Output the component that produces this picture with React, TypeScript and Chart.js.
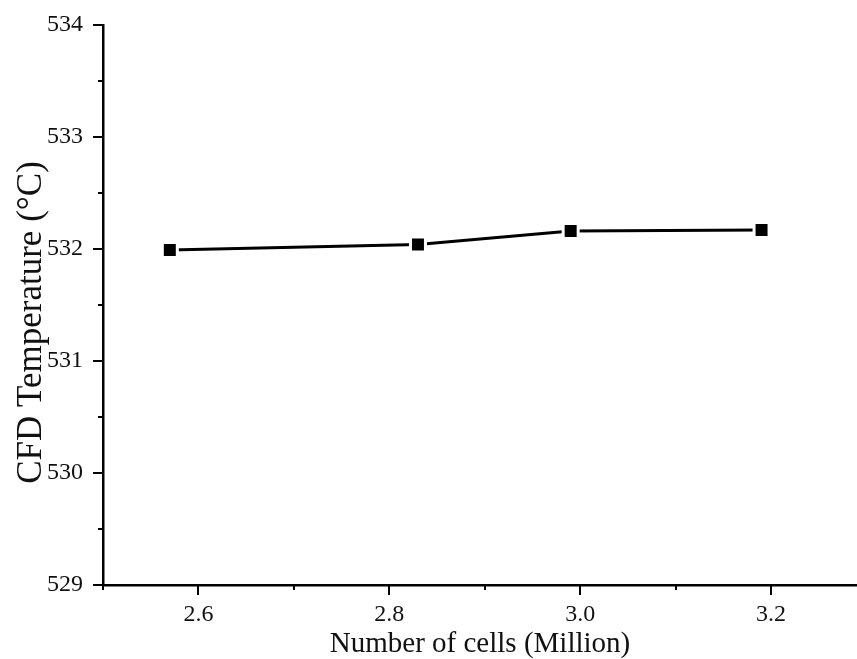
import React, { useEffect, useRef } from 'react';
import { Chart, registerables } from 'chart.js';

Chart.register(...registerables);

// Data
const cellCounts = [2.57, 2.83, 2.99, 3.19];
const cfdTemps = [531.99, 532.04, 532.16, 532.17];

// Axis ticks
const xTicks = [2.5, 2.6, 2.7, 2.8, 2.9, 3.0, 3.1, 3.2];
const xLabeled = [2.6, 2.8, 3.0, 3.2];
const yTicks = [529, 529.5, 530, 530.5, 531, 531.5, 532, 532.5, 533, 533.5, 534];
const yLabeled = [529, 530, 531, 532, 533, 534];

const xTitle = 'Number of cells (Million)';
const yTitle = 'CFD Temperature (°C)    ';

const FONT = '"Liberation Serif", "Times New Roman", serif';
const INK = '#111';

const isLabeled = (list: number[], v: number) => list.some((l) => Math.abs(l - v) < 1e-6);

const outTicks = {
  id: 'outTicks',
  afterDraw(chart: any) {
    const { ctx, chartArea } = chart;
    const xs = chart.scales.x;
    const ys = chart.scales.y;
    ctx.save();
    ctx.strokeStyle = '#000';
    ctx.lineWidth = 2;
    ctx.beginPath();
    xs.ticks.forEach((t: any) => {
      const px = Math.round(xs.getPixelForValue(t.value));
      const len = isLabeled(xLabeled, t.value) ? 10 : 5;
      ctx.moveTo(px, chartArea.bottom);
      ctx.lineTo(px, chartArea.bottom + len);
    });
    ys.ticks.forEach((t: any) => {
      const py = Math.round(ys.getPixelForValue(t.value));
      const len = isLabeled(yLabeled, t.value) ? 10 : 5;
      ctx.moveTo(chartArea.left - len, py);
      ctx.lineTo(chartArea.left, py);
    });
    ctx.stroke();
    ctx.restore();
  },
};

export default function App() {
  const ref = useRef<HTMLCanvasElement | null>(null);

  useEffect(() => {
    if (!ref.current) return;
    const chart = new Chart(ref.current, {
      type: 'line',
      data: {
        datasets: [
          {
            data: cellCounts.map((x, i) => ({ x, y: cfdTemps[i] })),
            borderColor: '#000',
            borderWidth: 3,
            pointStyle: 'rect',
            pointRadius: 10.6,
            pointHoverRadius: 10.6,
            pointBackgroundColor: '#000',
            pointBorderColor: '#fff',
            pointBorderWidth: 3,
            tension: 0,
          },
        ],
      },
      options: {
        responsive: false,
        animation: false,
        devicePixelRatio: 1,
        layout: { autoPadding: false, padding: { top: 25, right: 0, left: 0, bottom: 0 } },
        plugins: { legend: { display: false }, tooltip: { enabled: false } },
        scales: {
          x: {
            type: 'linear',
            min: 2.5,
            max: 3.29,
            afterBuildTicks: (s: any) => {
              s.ticks = xTicks.map((v) => ({ value: v }));
            },
            afterFit: (s: any) => {
              s.height = 74;
              s.paddingLeft = 0;
              s.paddingRight = 0;
            },
            grid: { display: true, drawOnChartArea: false, drawTicks: false },
            border: { display: true, color: '#000', width: 2.5 },
            ticks: {
              autoSkip: false,
              maxRotation: 0,
              padding: 15,
              color: INK,
              font: { family: FONT, size: 24 },
              callback: (v: any) => (isLabeled(xLabeled, Number(v)) ? Number(v).toFixed(1) : ''),
            },
            title: {
              display: true,
              text: xTitle,
              color: INK,
              font: { family: FONT, size: 29, lineHeight: 1 },
              padding: { top: 0, bottom: 0 },
            },
          },
          y: {
            type: 'linear',
            min: 529,
            max: 534,
            afterBuildTicks: (s: any) => {
              s.ticks = yTicks.map((v) => ({ value: v }));
            },
            afterFit: (s: any) => {
              s.width = 103;
              s.paddingTop = 0;
              s.paddingBottom = 0;
            },
            grid: { display: true, drawOnChartArea: false, drawTicks: false },
            border: { display: true, color: '#000', width: 2.5 },
            ticks: {
              autoSkip: false,
              padding: 20,
              color: INK,
              font: { family: FONT, size: 24 },
              callback: (v: any) => (isLabeled(yLabeled, Number(v)) ? String(Math.round(Number(v))) : ''),
            },
            title: {
              display: true,
              text: yTitle,
              color: INK,
              font: { family: FONT, size: 35, lineHeight: 1 },
              padding: { top: 14, bottom: 0 },
            },
          },
        },
      },
      plugins: [outTicks],
    });
    return () => chart.destroy();
  }, []);

  return (
    <div style={{ position: 'absolute', left: 0, top: 0, width: 857, height: 659, background: '#fff' }}>
      <canvas ref={ref} width={857} height={659} style={{ display: 'block' }} />
    </div>
  );
}
